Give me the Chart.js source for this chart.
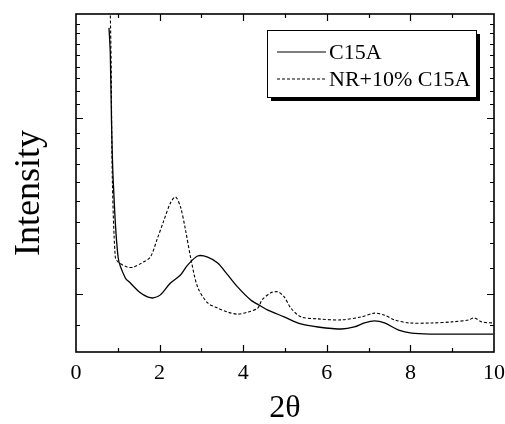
<!DOCTYPE html>
<html>
<head>
<meta charset="utf-8">
<script src="https://cdn.jsdelivr.net/npm/chart.js@4/dist/chart.umd.min.js"></script>
<style>
  html, body { margin: 0; padding: 0; background: #fff; }
  #wrap { width: 505px; height: 424px; }
</style>
</head>
<body>
<div id="wrap"><canvas id="myChart" width="505" height="424"></canvas></div>
<script>
// C15A (solid) : 2theta vs intensity (arb. units, 0-100)
const c15aX = [0.79, 0.82, 0.85, 0.89, 1.01, 1.18, 1.30, 1.54, 1.71, 1.85, 2.02, 2.26, 2.50, 2.67, 2.91, 3.15, 3.39, 3.63, 3.87, 4.18, 4.42, 4.59, 4.98, 5.38, 5.79, 6.35, 6.66, 6.90, 7.14, 7.38, 7.72, 8.03, 8.51, 8.99, 9.50, 9.98]
const c15aY = [95.9, 88.5, 68.0, 50.9, 27.8, 21.9, 20.4, 17.5, 16.3, 16.0, 16.9, 20.4, 22.8, 25.7, 28.4, 28.1, 26.3, 22.8, 19.2, 15.4, 13.6, 12.4, 10.4, 8.3, 7.4, 6.8, 7.4, 8.6, 9.2, 8.6, 6.5, 5.6, 5.3, 5.3, 5.3, 5.3]

// NR+10% C15A (dashed)
const nrX = [0.82, 0.84, 0.87, 0.94, 1.01, 1.23, 1.37, 1.61, 1.78, 1.95, 2.09, 2.26, 2.38, 2.50, 2.62, 2.74, 2.91, 3.15, 3.39, 3.63, 3.87, 4.11, 4.35, 4.45, 4.66, 4.83, 4.98, 5.14, 5.38, 5.79, 6.35, 6.83, 7.14, 7.38, 7.62, 7.96, 8.51, 8.99, 9.40, 9.52, 9.71, 9.98]
const nrY = [101, 86, 50.9, 28.1, 26.6, 25.1, 25.1, 26.6, 28.1, 33.7, 38.5, 44.1, 45.9, 42.9, 36.1, 28.1, 19.2, 14.5, 13.0, 11.8, 11.2, 11.8, 13.0, 15.4, 17.5, 17.8, 16.3, 13.0, 10.4, 9.8, 9.5, 10.4, 11.5, 10.9, 9.5, 8.6, 8.6, 8.9, 9.5, 10.1, 8.9, 8.6]

const xTickLabels = [0, 2, 4, 6, 8, 10]
const xTickMarks = [1, 2, 3, 4, 5, 6, 7, 8, 9]
const xMajorMarks = [2, 4, 6, 8]
const yTickMarks = [8.0, 17.2, 24.9, 32.2, 38.5, 44.7, 50.3, 55.6, 60.4, 64.8, 69.2, 73.4, 77.2, 81.1, 84.3, 87.9, 91.1, 94.4, 97.0]
const yMajorMarks = [17.2, 69.2]

const legendItems = ['C15A', 'NR+10% C15A']
const yTitle = 'Intensity'
const serif = '"Liberation Serif", "Times New Roman", serif'

const toPoints = (xs, ys) => xs.map((x, i) => ({x: x, y: ys[i]}))

const frame = {
  id: 'frame',
  afterDatasetsDraw(chart) {
    const {ctx, chartArea: a, scales} = chart
    const sx = scales.x, sy = scales.y
    ctx.save()
    ctx.strokeStyle = '#000'
    ctx.lineWidth = 1.6
    ctx.strokeRect(a.left, a.top, a.right - a.left, a.bottom - a.top)
    ctx.lineWidth = 1.2
    ctx.beginPath()
    xTickMarks.forEach(v => {
      const px = Math.round(sx.getPixelForValue(v)) + 0.5
      const len = xMajorMarks.includes(v) ? 7 : 4
      ctx.moveTo(px, a.bottom); ctx.lineTo(px, a.bottom - len)
      ctx.moveTo(px, a.top); ctx.lineTo(px, a.top + len)
    })
    yTickMarks.forEach(v => {
      const py = Math.round(sy.getPixelForValue(v)) + 0.5
      const len = yMajorMarks.includes(v) ? 7 : 4
      ctx.moveTo(a.left, py); ctx.lineTo(a.left + len, py)
      ctx.moveTo(a.right, py); ctx.lineTo(a.right - len, py)
    })
    ctx.stroke()

    // y title (sits a little below the axis middle in the original)
    ctx.save()
    ctx.translate(30, 193)
    ctx.rotate(-Math.PI / 2)
    ctx.font = '36px ' + serif
    ctx.textAlign = 'center'
    ctx.textBaseline = 'middle'
    ctx.fillStyle = '#000'
    ctx.fillText(yTitle, 0, 0)
    ctx.restore()

    // legend box with shadow
    const bx = 267, by = 30, bw = 209, bh = 67
    ctx.fillStyle = '#000'
    ctx.fillRect(bx + 4, by + 4, bw, bh)
    ctx.fillStyle = '#fff'
    ctx.fillRect(bx, by, bw, bh)
    ctx.lineWidth = 1
    ctx.strokeRect(bx + 0.5, by + 0.5, bw, bh)
    ctx.font = '22px ' + serif
    ctx.textBaseline = 'middle'
    ctx.fillStyle = '#000'
    legendItems.forEach((t, i) => {
      const y = by + 22 + i * 27
      ctx.beginPath()
      ctx.lineWidth = 1.2
      ctx.setLineDash(i === 0 ? [] : [3, 2])
      ctx.moveTo(277, y); ctx.lineTo(326, y)
      ctx.stroke()
      ctx.setLineDash([])
      ctx.fillText(t, 329, y + 1)
    })
    ctx.restore()
  }
}

new Chart(document.getElementById('myChart').getContext('2d'), {
  type: 'scatter',
  data: {
    datasets: [
      {
        label: legendItems[0],
        data: toPoints(c15aX, c15aY),
        showLine: true,
        borderColor: '#000',
        borderWidth: 1.3,
        pointRadius: 0,
        tension: 0.3,
      },
      {
        label: legendItems[1],
        data: toPoints(nrX, nrY),
        showLine: true,
        borderColor: '#000',
        borderWidth: 1.1,
        borderDash: [3, 2],
        pointRadius: 0,
        tension: 0.3,
      },
    ],
  },
  options: {
    responsive: false,
    animation: false,
    layout: {padding: {top: 14, right: 3, left: 0, bottom: 0}},
    plugins: {legend: {display: false}, tooltip: {enabled: false}},
    scales: {
      x: {
        type: 'linear',
        min: 0,
        max: 10,
        grid: {display: false},
        border: {display: false},
        afterBuildTicks: s => { s.ticks = xTickLabels.map(v => ({value: v})) },
        ticks: {color: '#000', padding: 0, font: {family: serif, size: 22}},
        title: {display: true, text: '2θ', color: '#000', padding: {top: 0, bottom: -4}, font: {family: serif, size: 32}},
        afterFit: s => { s.height = 72 },
      },
      y: {
        type: 'linear',
        min: 0,
        max: 100,
        grid: {display: false},
        border: {display: false},
        ticks: {display: false},
        afterFit: s => { s.width = 76 },
      },
    },
  },
  plugins: [frame],
})
</script>
</body>
</html>
